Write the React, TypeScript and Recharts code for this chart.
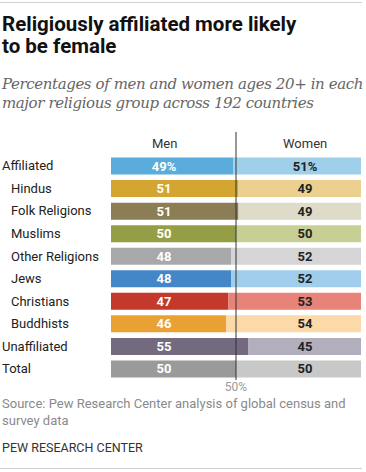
import { BarChart, Bar, XAxis, YAxis, Cell, LabelList, ReferenceLine } from 'recharts'

// first row is the column-header row (no bars)
const CATEGORIES = ['', 'Affiliated', 'Hindus', 'Folk Religions', 'Muslims', 'Other Religions', 'Jews', 'Christians', 'Buddhists', 'Unaffiliated', 'Total']
const SUBGROUPS = ['Hindus', 'Folk Religions', 'Muslims', 'Other Religions', 'Jews', 'Christians', 'Buddhists']
const MEN = [null, 49, 51, 51, 50, 48, 48, 47, 46, 55, 50]
const WOMEN = [null, 51, 49, 49, 50, 52, 52, 53, 54, 45, 50]
const MEN_COLORS = ['#fff', '#5aacda', '#d4a530', '#8b7e55', '#969e45', '#a8a8aa', '#4487c8', '#c4392b', '#e9a133', '#736a80', '#9a9a9a']
const WOMEN_COLORS = ['#fff', '#a0cfea', '#ecd08f', '#dedbc9', '#c7cf95', '#d5d5d5', '#9fcdeb', '#e8837a', '#fbd9a8', '#b2aebb', '#c8c8c8']
const X_TICKS = [50]

const data = CATEGORIES.map((cat, i) => ({
  cat,
  men: MEN[i],
  women: WOMEN[i],
  menLabel: MEN[i] == null ? '' : i === 1 ? `${MEN[i]}%` : `${MEN[i]}`,
  womenLabel: WOMEN[i] == null ? '' : i === 1 ? `${WOMEN[i]}%` : `${WOMEN[i]}`,
}))

const FONT = 'Roboto, "Liberation Sans", sans-serif'
const chartMargin = { top: 12, right: 5, left: 0, bottom: 0 }
const xTick = { fill: '#9a9a9a', fontSize: 12, fontFamily: FONT }

const CatTick = (props: any) => {
  const { y, payload } = props
  const indent = SUBGROUPS.includes(payload.value)
  return (
    <text x={indent ? 11 : 2} y={y} dy={4.5} textAnchor="start" fontSize={13}
      fontFamily={FONT} fill="#222">
      {payload.value}
    </text>
  )
}

const MenLabel = (props: any) => {
  const { x, y, height, value } = props
  if (!value) return null
  return (
    <text x={x + 53} y={y + height / 2} dy={4.5} textAnchor="middle" fontSize={13}
      fontWeight="bold" fontFamily={FONT} fill="#fff">{value}</text>
  )
}

const WomenLabel = (props: any) => {
  const { x, y, width, height, value } = props
  if (!value) return null
  return (
    <text x={x + width - 56} y={y + height / 2} dy={4.5} textAnchor="middle" fontSize={13}
      fontWeight="bold" fontFamily={FONT} fill="#222">{value}</text>
  )
}

export default function App() {
  return (
    <div style={{ position: 'absolute', left: 0, top: 0, width: 366, height: 472, background: '#fff', fontFamily: FONT }}>
      <div style={{ position: 'absolute', left: 0, top: 2, width: 362, height: 1, background: '#d0d0d0' }} />
      <div style={{ position: 'absolute', left: 2, top: 13, width: 364, fontSize: 20.5, lineHeight: '22px', fontWeight: 'bold', color: '#111' }}>
        Religiously affiliated more likely<br />to be female
      </div>
      <div style={{ position: 'absolute', left: 2, top: 75, width: 364, fontSize: 15, lineHeight: '19px', fontStyle: 'italic', color: '#666', fontFamily: '"DejaVu Serif", serif', letterSpacing: -0.4 }}>
        Percentages of men and women ages 20+ in each<br />major religious group across 192 countries
      </div>
      <div style={{ position: 'absolute', left: 152, top: 136, fontSize: 13, color: '#333' }}>Men</div>
      <div style={{ position: 'absolute', left: 283, top: 136, fontSize: 13, color: '#333' }}>Women</div>

      <div style={{ position: 'absolute', left: 0, top: 120 }}>
        <BarChart width={366} height={280} data={data} layout="vertical" margin={chartMargin} barSize={17}>
          <XAxis type="number" domain={[0, 100]} ticks={X_TICKS} tickFormatter={v => `${v}%`}
            axisLine={false} tickLine={false} tickSize={0} tickMargin={2} tick={xTick} height={20} interval={0} />
          <YAxis type="category" dataKey="cat" width={111} axisLine={false} tickLine={false}
            tick={<CatTick />} interval={0} />
          <Bar dataKey="men" stackId="a" isAnimationActive={false}>
            {data.map((_, i) => <Cell key={i} fill={MEN_COLORS[i]} />)}
            <LabelList dataKey="menLabel" content={<MenLabel />} />
          </Bar>
          <Bar dataKey="women" stackId="a" isAnimationActive={false}>
            {data.map((_, i) => <Cell key={i} fill={WOMEN_COLORS[i]} />)}
            <LabelList dataKey="womenLabel" content={<WomenLabel />} />
          </Bar>
          <ReferenceLine x={50} stroke="#333" strokeWidth={1} />
        </BarChart>
      </div>

      <div style={{ position: 'absolute', left: 2, top: 395, width: 362, fontSize: 13, lineHeight: '17px', color: '#8a8a8a' }}>
        Source: Pew Research Center analysis of global census and<br />survey data
      </div>
      <div style={{ position: 'absolute', left: 2, top: 440, fontSize: 12.5, color: '#333' }}>
        PEW RESEARCH CENTER
      </div>
      <div style={{ position: 'absolute', left: 0, top: 468, width: 362, height: 1, background: '#d0d0d0' }} />
    </div>
  )
}
